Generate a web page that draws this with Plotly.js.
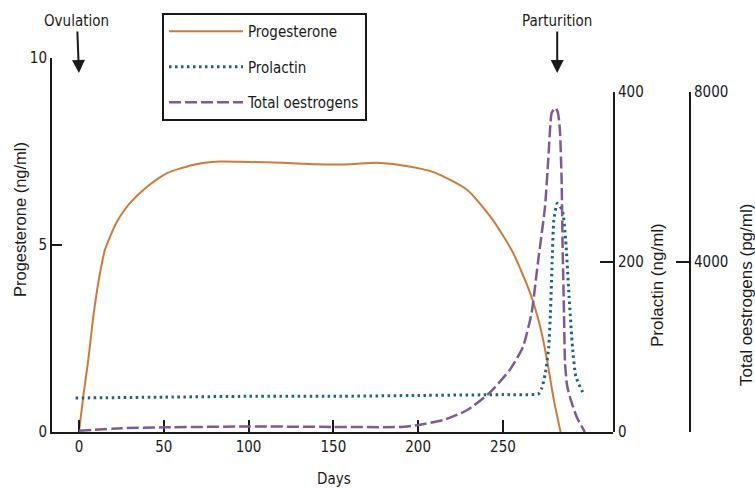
<!DOCTYPE html>
<html>
<head>
<meta charset="utf-8">
<script src="https://cdn.plot.ly/plotly-3.0.1.min.js"></script>
<style>
  html, body { margin: 0; padding: 0; background: #ffffff; }
  #chart { width: 755px; height: 488px; }
</style>
</head>
<body>
<div id="chart"></div>
<script>
// ---- Data ----
const progDays = [0, 2.5, 5.5, 8.4, 10.4, 12.4, 15.3, 18.3, 22, 26.1, 30, 40, 52, 67, 83, 99, 120, 140, 160, 175, 189, 209, 229, 244, 256, 266, 272, 276, 280, 284];
const progVals = [0, 0.94, 1.93, 3.07, 3.71, 4.25, 4.87, 5.22, 5.59, 5.89, 6.12, 6.55, 6.92, 7.14, 7.23, 7.22, 7.2, 7.16, 7.16, 7.2, 7.14, 6.95, 6.47, 5.67, 4.79, 3.72, 2.81, 1.93, 0.86, 0];

const prlDays = [-2, 50, 100, 150, 200, 250, 271, 273, 275, 277, 278, 279, 280, 282, 285, 287, 289, 291, 293, 297];
const prlVals = [40, 41, 42, 42, 43, 44, 45, 52, 69, 100, 140, 199, 249, 269, 261, 226, 159, 100, 65, 47];

const oesDays = [0, 25, 50, 100, 150, 189, 200, 215, 229, 242, 254, 261.8, 266.9, 270.6, 274.8, 276.7, 278.7, 280.2, 281.3, 282.5, 283.6, 284.6, 285.2, 286, 286.6, 287.8, 289.5, 293.5, 298.3];
const oesVals = [30, 90, 110, 130, 120, 118, 165, 282, 517, 917, 1459, 2000, 2800, 3976, 5294, 6400, 7506, 7600, 7620, 7500, 7106, 5929, 4353, 2800, 1624, 1100, 824, 353, 0];

const xTicks = [0, 50, 100, 150, 200, 250];
const progTicks = [0, 5, 10];
const prlTicks = [0, 200, 400];
const oesTicks = [4000, 8000];

const seriesNames = ['Progesterone', 'Prolactin', 'Total oestrogens'];
const events = [{label: 'Ovulation', day: 0}, {label: 'Parturition', day: 282}];

// ---- Styling ----
const NARROW = "'Liberation Sans Narrow', 'Arial Narrow', 'DejaVu Sans Condensed', sans-serif";
const REG = "'Liberation Sans', Arial, sans-serif";
const INK = '#1a1a1a';
const ORANGE = '#cf7a3a';
const TEAL = '#1b6682';
const PURPLE = '#7c5b98';

const traces = [
  {x: progDays, y: progVals, xaxis: 'x', yaxis: 'y', name: seriesNames[0], type: 'scatter', mode: 'lines',
   line: {color: ORANGE, width: 2, shape: 'spline', smoothing: 0.6}, legendgroup: 'a'},
  {x: prlDays, y: prlVals, xaxis: 'x', yaxis: 'y2', name: seriesNames[1], type: 'scatter', mode: 'lines',
   line: {color: TEAL, width: 3, dash: '2.5px,3.5px', shape: 'spline', smoothing: 0.5}, legendgroup: 'b'},
  {x: oesDays, y: oesVals, xaxis: 'x', yaxis: 'y3', name: seriesNames[2], type: 'scatter', mode: 'lines',
   line: {color: PURPLE, width: 2.5, dash: '12px,4px', shape: 'spline', smoothing: 0.5}, legendgroup: 'c'}
];

const W = 755, H = 488, L = 52, R = 65, T = 58, B = 56;
const PW = W - L - R, PH = H - T - B;
const px = v => (v - L) / PW;
const py = v => (H - B - v) / PH;

const axisCommon = {
  showline: true, linecolor: INK, linewidth: 2,
  ticks: 'inside', tickwidth: 2, tickcolor: INK,
  showgrid: false, zeroline: false,
  tickfont: {family: NARROW, size: 15, color: INK},
  fixedrange: true
};

const annotations = [
  {text: 'Progesterone (ng/ml)', xref: 'paper', yref: 'paper', x: px(20), y: py(220), textangle: -90,
   xanchor: 'center', yanchor: 'middle',
   showarrow: false, font: {family: REG, size: 16.5, color: INK}},
  {text: 'Prolactin (ng/ml)', xref: 'paper', yref: 'paper', x: px(657), y: py(285), textangle: -90,
   xanchor: 'center', yanchor: 'middle',
   showarrow: false, font: {family: REG, size: 17, color: INK}},
  {text: 'Total oestrogens (pg/ml)', xref: 'paper', yref: 'paper', x: px(746), y: py(295), textangle: -90,
   xanchor: 'center', yanchor: 'middle',
   showarrow: false, font: {family: REG, size: 17, color: INK}},
  {text: 'Days', xref: 'paper', yref: 'paper', x: px(334), y: py(479),
   xanchor: 'center', yanchor: 'middle',
   showarrow: false, font: {family: NARROW, size: 15, color: INK}}
];
events.forEach(ev => annotations.push({
  text: ev.label, xref: 'x', yref: 'paper', x: ev.day, y: py(73),
  showarrow: true, ax: ev.day === 0 ? -2 : 0, ay: -52, arrowhead: 2, arrowsize: 1.3, arrowwidth: 2,
  arrowcolor: INK, font: {family: NARROW, size: 15, color: INK}
}));

const layout = {
  width: W, height: H,
  margin: {l: L, r: R, t: T, b: B, pad: 0},
  paper_bgcolor: '#ffffff', plot_bgcolor: 'rgba(0,0,0,0)',
  showlegend: true,
  legend: {
    x: px(162), y: py(13), xanchor: 'left', yanchor: 'top',
    bgcolor: '#ffffff', bordercolor: INK, borderwidth: 2,
    font: {family: NARROW, size: 15, color: INK},
    traceorder: 'grouped', tracegroupgap: 13, itemwidth: 74
  },
  xaxis: Object.assign({}, axisCommon, {
    domain: [0, (613 - L) / PW], range: [-15.9, 314.9], anchor: 'y',
    tickvals: xTicks, ticklen: 12
  }),
  yaxis: Object.assign({}, axisCommon, {
    domain: [0, 1], range: [0, 10], anchor: 'x',
    tickvals: progTicks, ticklen: 10
  }),
  yaxis2: Object.assign({}, axisCommon, {
    domain: [0, (432 - 92) / PH], range: [0, 400], anchor: 'x', side: 'right',
    tickvals: prlTicks, ticklen: 13
  }),
  yaxis3: Object.assign({}, axisCommon, {
    overlaying: 'y2', anchor: 'free', position: 1, side: 'right', range: [0, 8000],
    tickvals: oesTicks, ticklen: 13
  }),
  annotations: annotations
};

Plotly.newPlot('chart', traces, layout, {displayModeBar: false, staticPlot: true});
</script>
</body>
</html>
